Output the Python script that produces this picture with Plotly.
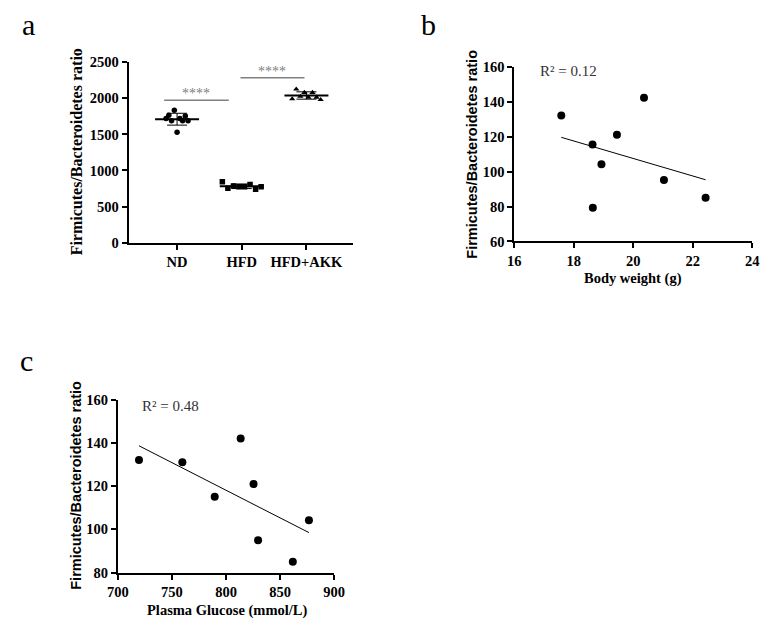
import numpy as np
import plotly.graph_objects as go

# ---------------- data ----------------
groups = ["ND", "HFD", "HFD+AKK"]
nd_vals = [1722, 1766, 1689, 1834, 1532, 1722, 1689, 1757, 1689]
hfd_vals = [843, 753, 784, 775, 775, 807, 739, 775]
akk_vals = [1992, 2127, 2027, 2081, 2014, 2081, 2014, 1982]
sig_y = [1975, 2285]
sig_label = ["****", "****"]

bw_x = [17.58, 18.63, 18.64, 18.93, 19.45, 20.36, 21.03, 22.43]
bw_y = [132.2, 115.6, 79.3, 104.2, 121.2, 142.4, 95.2, 85.1]
r2_b = "R² = 0.12"

glu_x = [719.5, 759.6, 789.5, 813.5, 825.4, 829.6, 861.7, 876.6]
glu_y = [132.1, 131.0, 115.1, 142.0, 121.0, 95.0, 85.1, 104.2]
r2_c = "R² = 0.48"

a_yticks = [0, 500, 1000, 1500, 2000, 2500]
b_xticks = [16, 18, 20, 22, 24]
b_yticks = [60, 80, 100, 120, 140, 160]
c_xticks = [700, 750, 800, 850, 900]
c_yticks = [80, 100, 120, 140, 160]

ytitle = "Firmicutes/Bacteroidetes ratio"

# ---------------- figure ----------------
W, H = 774, 635
SERIF = "Liberation Serif, Times New Roman, serif"
SANS = "Liberation Sans, Arial, sans-serif"
GRAY = "#808080"

fig = go.Figure()

def px_x(p):
    return p / W

def px_y(p):
    return 1 - p / H

# panel a
spreads = [0.17, 0.30, 0.22]
syms = ["circle", "square", "triangle-up"]
all_vals = [nd_vals, hfd_vals, akk_vals]
for i, vals in enumerate(all_vals):
    c = i + 1
    n = len(vals)
    xs = c + np.linspace(-spreads[i], spreads[i], n)
    fig.add_trace(go.Scatter(x=xs, y=vals, mode="markers",
                             marker=dict(symbol=syms[i], size=5.5, color="black"),
                             xaxis="x", yaxis="y", showlegend=False))
    m = float(np.mean(vals))
    sd = float(np.std(vals, ddof=1))
    fig.add_trace(go.Scatter(x=[c - 0.34, c + 0.34], y=[m, m], mode="lines",
                             line=dict(color="black", width=2),
                             xaxis="x", yaxis="y", showlegend=False))
    fig.add_trace(go.Scatter(x=[c], y=[m], mode="markers",
                             marker=dict(size=1, color="black"),
                             error_y=dict(type="data", array=[sd], visible=True,
                                          color="black", thickness=1, width=10),
                             xaxis="x", yaxis="y", showlegend=False))

sig_spans = [(0.80, 1.80), (1.98, 2.97)]
for (x0, x1), yv, lab in zip(sig_spans, sig_y, sig_label):
    fig.add_trace(go.Scatter(x=[x0, x1], y=[yv, yv], mode="lines",
                             line=dict(color=GRAY, width=1.5),
                             xaxis="x", yaxis="y", showlegend=False))
    fig.add_annotation(x=(x0 + x1) / 2, y=yv, xref="x", yref="y", text=lab,
                       showarrow=False, yanchor="bottom", yshift=-3,
                       font=dict(family=SERIF, size=14, color=GRAY))

# panel b
fig.add_trace(go.Scatter(x=bw_x, y=bw_y, mode="markers",
                         marker=dict(size=8, color="black"),
                         xaxis="x2", yaxis="y2", showlegend=False))
kb = np.polyfit(bw_x, bw_y, 1)
xb = np.array([min(bw_x), max(bw_x)])
fig.add_trace(go.Scatter(x=xb, y=np.polyval(kb, xb), mode="lines",
                         line=dict(color="black", width=1),
                         xaxis="x2", yaxis="y2", showlegend=False))

# panel c
fig.add_trace(go.Scatter(x=glu_x, y=glu_y, mode="markers",
                         marker=dict(size=8, color="black"),
                         xaxis="x3", yaxis="y3", showlegend=False))
kc = np.polyfit(glu_x, glu_y, 1)
xc = np.array([min(glu_x), max(glu_x)])
fig.add_trace(go.Scatter(x=xc, y=np.polyval(kc, xc), mode="lines",
                         line=dict(color="black", width=1),
                         xaxis="x3", yaxis="y3", showlegend=False))

tickfont = dict(family=SERIF, size=14.5, color="black", weight="bold")
axcommon = dict(showline=True, linecolor="black", linewidth=2, ticks="outside",
                ticklen=5, tickwidth=1.5, tickcolor="black", showgrid=False,
                zeroline=False, tickfont=tickfont, fixedrange=True)

fig.update_layout(
    width=W, height=H, margin=dict(l=0, r=0, t=0, b=0),
    paper_bgcolor="white", plot_bgcolor="white",
    xaxis=dict(domain=[px_x(121), px_x(352)], range=[0.25, 3.72],
               tickvals=[1, 2, 3], ticktext=groups, anchor="y", **axcommon),
    yaxis=dict(domain=[px_y(240.7), px_y(55.7)], range=[0, 2500],
               tickvals=a_yticks, anchor="x", **axcommon),
    xaxis2=dict(domain=[px_x(518), px_x(763)], range=[16, 24],
                tickvals=b_xticks, anchor="y2", **axcommon),
    yaxis2=dict(domain=[px_y(239.5), px_y(60.5)], range=[60, 160],
                tickvals=b_yticks, anchor="x2", **axcommon),
    xaxis3=dict(domain=[px_x(110), px_x(332.7)], range=[700, 900],
                tickvals=c_xticks, anchor="y3", **axcommon),
    yaxis3=dict(domain=[px_y(579.3), px_y(401.7)], range=[80, 160],
                tickvals=c_yticks, anchor="x3", **axcommon),
)

def ann(x, y, text, font, angle=0, xanchor="center", yanchor="middle"):
    fig.add_annotation(x=px_x(x), y=px_y(y), xref="paper", yref="paper",
                       text=text, showarrow=False, textangle=angle,
                       xanchor=xanchor, yanchor=yanchor, font=font)

# panel letters
ann(18, 17, "a", dict(family=SERIF, size=30, color="black"))
ann(430, 17, "b", dict(family=SERIF, size=30, color="black"))
ann(16, 362, "c", dict(family=SERIF, size=30, color="black"))

# y titles
ann(67, 148, ytitle, dict(family=SERIF, size=16, color="black", weight="bold"), angle=-90)
ann(475, 150, ytitle, dict(family=SANS, size=14.5, color="black", weight="bold"), angle=-90)
ann(67, 490, ytitle, dict(family=SANS, size=14.5, color="black", weight="bold"), angle=-90)

# x titles
ann(640, 277, "Body weight (g)", dict(family=SERIF, size=14.5, color="black", weight="bold"))
ann(222, 618, "Plasma Glucose (mmol/L)", dict(family=SERIF, size=14.5, color="black", weight="bold"))

# R^2
ann(542, 65, r2_b, dict(family=SERIF, size=15, color="#333333"), xanchor="left")
ann(133, 408, r2_c, dict(family=SERIF, size=15, color="#333333"), xanchor="left")

fig.write_html("out.html", config={"displayModeBar": False},
               post_script="document.body.style.margin='0px';document.body.style.overflow='hidden';")
